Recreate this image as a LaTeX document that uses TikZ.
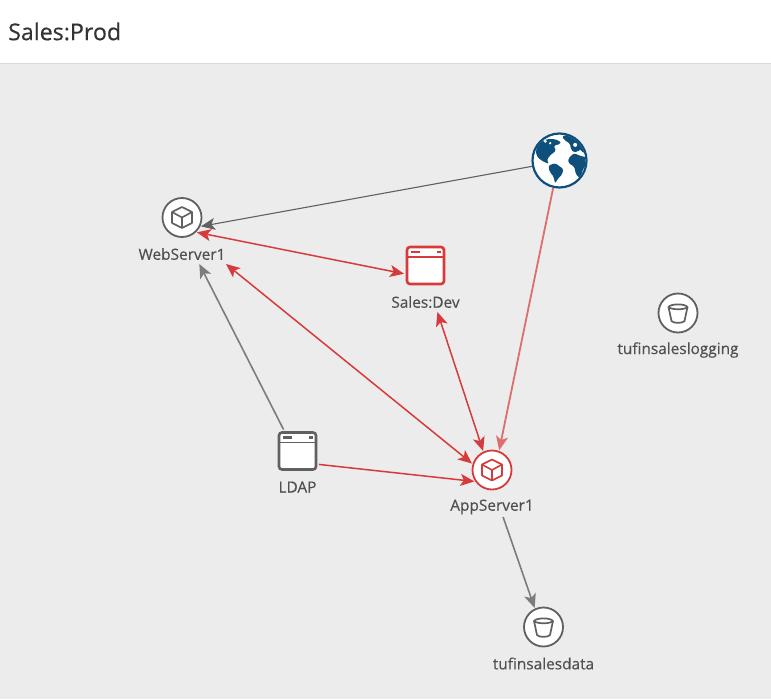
\documentclass[tikz,border=0pt]{standalone}
\usepackage{fontspec}
\setmainfont{Open Sans}[FakeBold=0.4]
\usetikzlibrary{positioning, arrows.meta}
\definecolor{canvasgray}{HTML}{ECECEC}
\definecolor{rulegray}{HTML}{DADADA}
\definecolor{titlegray}{HTML}{333333}
\definecolor{textgray}{HTML}{505050}
\definecolor{icongray}{HTML}{606060}
\definecolor{linkgray}{HTML}{7C7C7C}
\definecolor{linkred}{HTML}{D63A3A}
\definecolor{fadedred}{HTML}{DD6E6E}
\definecolor{globeblue}{HTML}{0E4F7C}
\tikzset{
    hostcircle/.style={circle, draw=#1, fill=white, line width=1.8pt, minimum size=39pt, inner sep=0pt, outer sep=1.5pt},
    appwindow/.style={rectangle, rounded corners=3pt, draw=#1, fill=white, line width=2.6pt, minimum size=37pt, inner sep=0pt, outer sep=3pt},
    hostlabel/.style={text=textgray, font=\fontsize{15.4}{17}\selectfont, minimum height=20pt, inner sep=0pt, outer sep=0pt},
    link/.style={line width=#1, -{Stealth[length=14pt, width=12pt, inset=3.5pt]}},
    duallink/.style={linkred, line width=1.5pt, {Stealth[length=14pt, width=12pt, inset=3.5pt]}-{Stealth[length=14pt, width=12pt, inset=3.5pt]}}
}
\begin{document}
\begin{tikzpicture}[x=1pt, y=-1pt]
    \useasboundingbox (0,0) rectangle (771,699);

    % Header and canvas
    \fill[canvasgray] (0,64) rectangle (771,699);
    \draw[rulegray] (0,63.5) -- (771,63.5);
    \node[anchor=west, text=titlegray, font=\fontsize{23.2}{26}\selectfont, inner sep=0pt] (title) at (8,31.5) {Sales:Prod};

    % Hosts
    \node[hostcircle=icongray] (webserver) at (182,217.5) {};
    \node[hostcircle=linkred] (appserver) at (492,470) {};
    \node[hostcircle=icongray] (salesdata) at (543.5,627) {};
    \node[hostcircle=icongray] (saleslogging) at (678,313) {};
    \node[appwindow=linkred] (salesdev) at (425.5,265.5) {};
    \node[appwindow=icongray] (ldap) at (297.5,451) {};
    \node[circle, draw=globeblue, fill=white, line width=2.2pt, minimum size=54pt, inner sep=0pt, outer sep=1pt] (globe) at (559.5,160.5) {};

    % Labels
    \node[hostlabel, minimum width=88pt] (webserverlabel) at (182,254) {WebServer1};
    \node[hostlabel, minimum width=70pt] (salesdevlabel) at (425.5,302) {Sales:Dev};
    \node[hostlabel] (ldaplabel) at (297.5,487) {LDAP};
    \node[hostlabel, minimum width=84pt] (appserverlabel) at (492,507) {AppServer1};
    \node[hostlabel] (saleslogginglabel) at (678,350) {tufinsaleslogging};
    \node[hostlabel] (salesdatalabel) at (543.5,663.5) {tufinsalesdata};

    % Connectors
    \draw[link=1.1pt, icongray] (globe.192) -- (webserver.-25);
    \draw[link=1.6pt, linkgray] (ldap.123) -- (webserverlabel.-30);
    \draw[link=1.6pt, linkgray] (appserverlabel.-42) -- (salesdata.115);
    \draw[link=1.8pt, fadedred] (globe.257) -- (appserver.70);
    \draw[link=1.5pt, linkred] (ldap.-32) -- (appserver.213);
    \draw[duallink] (webserver.-45) -- (salesdev.201);
    \draw[duallink] (webserverlabel.south east) -- (appserver.162);
    \draw[duallink] (salesdevlabel.-40) -- (appserver.115);

    % Cube icons
    \foreach \host/\hue in {webserver/icongray, appserver/linkred} {
        \begin{scope}[shift={(\host)}, draw=\hue, line width=1.6pt, line join=round]
            \draw (0,-10.5) -- (10,-5.5) -- (10,5.5) -- (0,10.5) -- (-10,5.5) -- (-10,-5.5) -- cycle;
            \draw (-10,-5.5) -- (0,0) -- (10,-5.5);
            \draw (0,0) -- (0,10.5);
        \end{scope}
    }

    % Bucket icons
    \foreach \host in {salesdata, saleslogging} {
        \begin{scope}[shift={(\host)}, draw=icongray, line width=1.7pt, line join=round]
            \draw (-9.5,-6) .. controls (-7,-9.5) and (7,-9.5) .. (9.5,-6) .. controls (7,-3) and (-7,-3) .. (-9.5,-6) -- cycle;
            \draw (-9.5,-6) -- (-6.5,8) .. controls (-5,10.5) and (5,10.5) .. (6.5,8) -- (9.5,-6);
        \end{scope}
    }

    % Window icon details
    \foreach \host/\hue in {salesdev/linkred, ldap/icongray} {
        \begin{scope}[shift={(\host)}, draw=\hue]
            \draw[line width=1.4pt] (-18.5,-8.5) -- (18.5,-8.5);
            \draw[line width=2.2pt] (-14.5,-13.5) -- (-5.5,-13.5);
            \draw[line width=2.2pt] (11,-13.5) -- (15,-13.5);
        \end{scope}
    }

    % Globe continents
    \begin{scope}[shift={(globe)}, scale=0.333]
        \clip (0,0) circle (78);
        \fill[globeblue, rounded corners=1.5pt] (-70,-34) -- (-60,-54) -- (-38,-64) -- (-13,-64) -- (4,-56) -- (2,-50) -- (-18,-44) -- (-10,-30) -- (-20,-22) -- (-30,-14) -- (-38,0) -- (-31,10) -- (-43,6) -- (-60,-4) -- (-70,-17) -- cycle;
        \fill[globeblue, rounded corners=1.5pt] (-33,15) -- (-13,8) -- (12,26) -- (7,43) -- (-6,56) -- (-13,70) -- (-18,48) -- (-30,33) -- cycle;
        \fill[globeblue, rounded corners=1.5pt] (27,-7) -- (44,-22) -- (62,-14) -- (80,-10) -- (82,8) -- (70,28) -- (62,53) -- (50,43) -- (44,18) -- (27,8) -- cycle;
        \fill[globeblue, rounded corners=1.5pt] (7,-72) -- (22,-77) -- (62,-62) -- (77,-32) -- (77,-22) -- (60,-30) -- (44,-24) -- (34,-34) -- (32,-50) -- (17,-60) -- cycle;
        \fill[white] (-43,-58) circle (5);
        \fill[white] (-28,-52) circle (4);
        \fill[white] (47,-47) circle (6);
        \fill[white] (62,-27) circle (5);
    \end{scope}
\end{tikzpicture}
\end{document}
